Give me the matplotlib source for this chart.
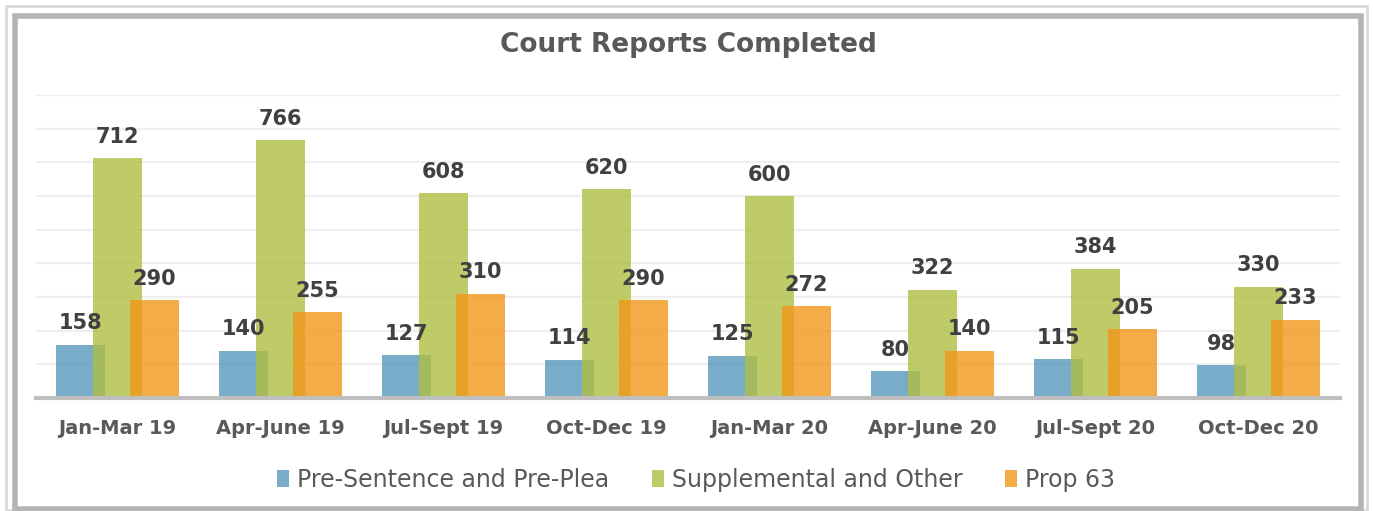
import matplotlib.pyplot as plt
import numpy as np
from matplotlib.patches import Rectangle, Patch

# Quarterly court report counts
quarters = ['Jan-Mar 19', 'Apr-June 19', 'Jul-Sept 19', 'Oct-Dec 19',
            'Jan-Mar 20', 'Apr-June 20', 'Jul-Sept 20', 'Oct-Dec 20']
pre_sentence = [158, 140, 127, 114, 125, 80, 115, 98]
supplemental = [712, 766, 608, 620, 600, 322, 384, 330]
prop63 = [290, 255, 310, 290, 272, 140, 205, 233]

series = [('Pre-Sentence and Pre-Plea', pre_sentence, '#5697bb'),
          ('Supplemental and Other', supplemental, '#b0bf42'),
          ('Prop 63', prop63, '#f2971a')]

W, H = 1373, 511
fig = plt.figure(figsize=(W / 100, H / 100), dpi=100)
fig.patch.set_facecolor('white')

# beveled frame around the chart
fig.patches.append(Rectangle((6 / W, 1 - 510 / H), 1361 / W, 504 / H, transform=fig.transFigure,
                             fill=False, edgecolor='#dadada', linewidth=2))
fig.patches.append(Rectangle((15 / W, 1 - 509 / H), 1346 / W, 493 / H, transform=fig.transFigure,
                             fill=False, edgecolor='#b4b4b4', linewidth=4))

ax = fig.add_axes([36 / W, 1 - 398 / H, 1304 / W, 303 / H])

x = np.arange(len(quarters))
width = 0.30
offset = 0.227
for i, (name, vals, color) in enumerate(series):
    pos = x + (i - 1) * offset
    ax.bar(pos, vals, width, color=color, alpha=0.8, zorder=2 + i, linewidth=0)
    for p, v in zip(pos, vals):
        ax.text(p, v + 34, str(v), ha='center', va='bottom', fontsize=15,
                fontweight='bold', color='#404040', zorder=10)

ax.set_xlim(-0.5, len(quarters) - 0.5)
ax.set_ylim(0, 900)
ax.set_yticks(np.arange(100, 901, 100))
ax.yaxis.grid(True, color='#eeeeee', linewidth=1.6, zorder=0)
ax.set_axisbelow(True)
ax.tick_params(axis='y', left=False, labelleft=False)
ax.tick_params(axis='x', length=0, pad=15)
ax.set_xticks(x)
ax.set_xticklabels(quarters, fontsize=14, fontweight='bold', color='#595959')
for s in ['top', 'right', 'left']:
    ax.spines[s].set_visible(False)
ax.spines['bottom'].set_color('#bfbfbf')
ax.spines['bottom'].set_linewidth(3)
ax.spines['bottom'].set_zorder(20)

fig.text(688 / W, 1 - 45 / H, 'Court Reports Completed', ha='center', va='center',
         fontsize=19, fontweight='bold', color='#595959')

handles = [Patch(facecolor=c, alpha=0.8, edgecolor='none') for _, _, c in series]
fig.legend(handles, [s[0] for s in series], loc='center', bbox_to_anchor=(696 / W, 1 - 480 / H),
           ncol=3, frameon=False, fontsize=17, handlelength=0.5, handleheight=0.7,
           handletextpad=0.35, columnspacing=1.8, labelcolor='#595959')

fig.savefig('out.png', dpi=100)
